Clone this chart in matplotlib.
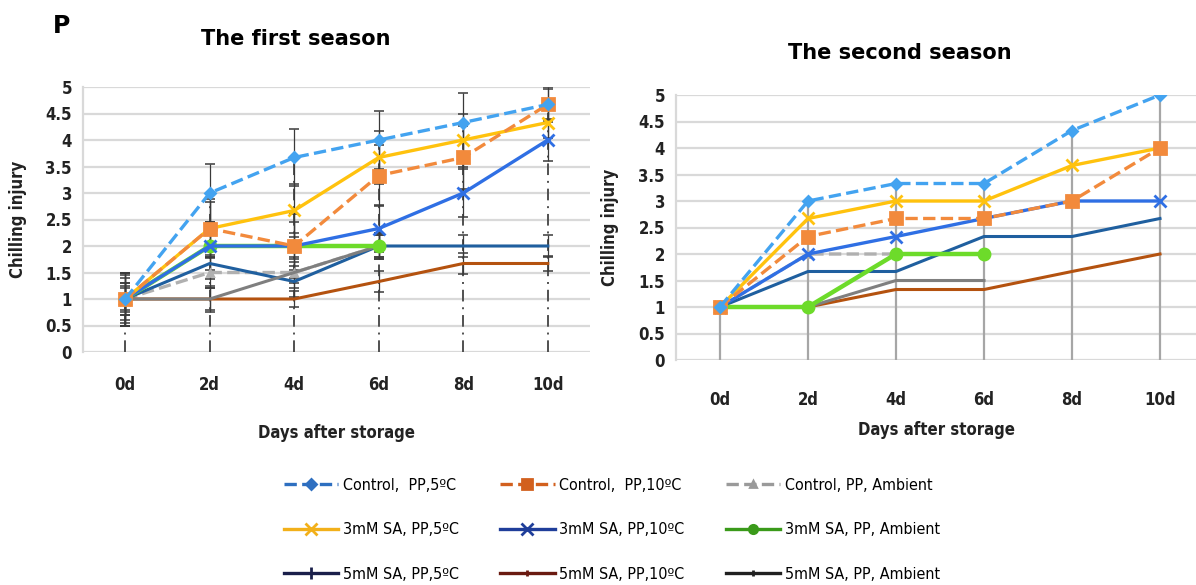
import numpy as np
import matplotlib
matplotlib.use("Agg")
import matplotlib.pyplot as plt
from matplotlib.lines import Line2D

plt.rcParams['font.family'] = ['DejaVu Sans']
plt.rcParams['font.stretch'] = 'condensed'

days = [0, 2, 4, 6, 8, 10]
day_labels = ['0d', '2d', '4d', '6d', '8d', '10d']
nan = np.nan

# first season
s1_ctrl5 = [1, 3, 3.67, 4, 4.33, 4.67]
s1_ctrl10 = [1, 2.33, 2, 3.33, 3.67, 4.67]
s1_ctrlamb = [1, 1.5, 1.5, 2, nan, nan]
s1_sa3_5 = [1, 2.33, 2.67, 3.67, 4, 4.33]
s1_sa3_10 = [1, 2, 2, 2.33, 3, 4]
s1_sa3_amb = [1, 2, 2, 2, nan, nan]
s1_sa5_5 = [1, 1.67, 1.33, 2, 2, 2]
s1_sa5_10 = [1, 1, 1, 1.33, 1.67, 1.67]
s1_sa5_amb = [1, 1, 1.5, 2, nan, nan]

# error bars, first season (estimated)
e1_ctrl5 = [0.5, 0.55, 0.53, 0.55, 0.55, 0.33]
e1_ctrl10 = [0.5, 0.55, 0.6, 0.58, 0.6, 0.3]
e1_ctrlamb = [0.5, 0.3, 0.3, 0.25, nan, nan]
e1_sa3_5 = [0.45, 0.5, 0.5, 0.5, 0.5, 0.3]
e1_sa3_10 = [0.4, 0.45, 0.45, 0.45, 0.45, 0.4]
e1_sa3_amb = [0.3, 0.2, 0.25, 0.2, nan, nan]
e1_sa5_5 = [0.3, 0.3, 0.3, 0.25, 0.2, 0.2]
e1_sa5_10 = [0.2, 0.25, 0.15, 0.2, 0.2, 0.15]
e1_sa5_amb = [0.25, 0.2, 0.2, 0.2, nan, nan]

# second season
s2_ctrl5 = [1, 3, 3.33, 3.33, 4.33, 5]
s2_ctrl10 = [1, 2.33, 2.67, 2.67, 3, 4]
s2_ctrlamb = [1, 2, 2, nan, nan, nan]
s2_sa3_5 = [1, 2.67, 3, 3, 3.67, 4]
s2_sa3_10 = [1, 2, 2.33, 2.67, 3, 3]
s2_sa3_amb = [1, 1, 2, 2, nan, nan]
s2_sa5_5 = [1, 1.67, 1.67, 2.33, 2.33, 2.67]
s2_sa5_10 = [1, 1, 1.33, 1.33, 1.67, 2]
s2_sa5_amb = [1, 1, 1.5, 1.5, nan, nan]

names = ['Control,  PP,5\u00baC', 'Control,  PP,10\u00baC', 'Control, PP, Ambient',
         '3mM SA, PP,5\u00baC', '3mM SA, PP,10\u00baC', '3mM SA, PP, Ambient',
         '5mM SA, PP,5\u00baC', '5mM SA, PP,10\u00baC', '5mM SA, PP, Ambient']

styles = [
    dict(color='#43A3F0', ls='--', lw=2.4, marker='D', ms=5, z=9),
    dict(color='#F28A3C', ls='--', lw=2.4, marker='s', ms=8, z=8),
    dict(color='#B0B0B0', ls='--', lw=2.4, marker='^', ms=5, z=3),
    dict(color='#FFC20E', ls='-', lw=2.4, marker='x', ms=8, z=7),
    dict(color='#2F6FE4', ls='-', lw=2.4, marker='x', ms=9, z=6),
    dict(color='#6DDB2A', ls='-', lw=3.2, marker='o', ms=8, z=5),
    dict(color='#1F5F9F', ls='-', lw=2.2, marker=None, ms=0, z=4),
    dict(color='#B4520F', ls='-', lw=2.2, marker=None, ms=0, z=4),
    dict(color='#7F7F7F', ls='-', lw=2.2, marker=None, ms=0, z=4),
]

legend_styles = [
    dict(color='#2E6FC0', ls='--', marker='D', ms=5),
    dict(color='#D2601E', ls='--', marker='s', ms=7),
    dict(color='#9A9A9A', ls='--', marker='^', ms=5),
    dict(color='#F2B01A', ls='-', marker='x', ms=9),
    dict(color='#1F3E9A', ls='-', marker='x', ms=9),
    dict(color='#3A9A1A', ls='-', marker='o', ms=6),
    dict(color='#1A1F4A', ls='-', marker='|', ms=9),
    dict(color='#6A1A10', ls='-', marker='|', ms=4),
    dict(color='#202020', ls='-', marker='|', ms=4),
]

season1 = [s1_ctrl5, s1_ctrl10, s1_ctrlamb, s1_sa3_5, s1_sa3_10, s1_sa3_amb, s1_sa5_5, s1_sa5_10, s1_sa5_amb]
errs1 = [e1_ctrl5, e1_ctrl10, e1_ctrlamb, e1_sa3_5, e1_sa3_10, e1_sa3_amb, e1_sa5_5, e1_sa5_10, e1_sa5_amb]
season2 = [s2_ctrl5, s2_ctrl10, s2_ctrlamb, s2_sa3_5, s2_sa3_10, s2_sa3_amb, s2_sa5_5, s2_sa5_10, s2_sa5_amb]

W, H = 1196, 585
fig = plt.figure(figsize=(W / 100, H / 100), dpi=100)


def setup(ax, xmax, tickpad):
    ax.set_xlim(-1, xmax)
    ax.set_ylim(0, 5)
    ax.set_yticks(np.arange(0, 5.01, 0.5))
    ax.set_yticklabels(['0', '0.5', '1', '1.5', '2', '2.5', '3', '3.5', '4', '4.5', '5'],
                       fontsize=12, fontweight='bold', color='#222222')
    ax.set_xticks(days)
    ax.set_xticklabels(day_labels, fontsize=12, fontweight='bold', color='#222222')
    ax.tick_params(axis='both', length=0)
    ax.tick_params(axis='x', pad=tickpad)
    ax.tick_params(axis='y', pad=8)
    ax.grid(axis='y', color='#D9D9D9', lw=1.6)
    ax.set_axisbelow(True)
    for s in ['top', 'right', 'bottom']:
        ax.spines[s].set_visible(False)
    ax.spines['left'].set_color('#D9D9D9')
    ax.spines['left'].set_linewidth(1.6)
    ax.set_ylabel('Chilling injury', fontsize=12, fontweight='bold', color='#222222')
    ax.set_xlabel('Days after storage', fontsize=12, fontweight='bold', color='#222222')


# first season
ax1 = fig.add_axes([83 / W, 1 - 352 / H, 507 / W, 265 / H])
setup(ax1, 11, 17)
top1 = np.nanmax(np.array(season1), axis=0)
ax1.vlines(days, 0, top1, colors='#505050', linestyles=(0, (6, 3, 1, 3)), lw=1.4, zorder=1)
for ys, es, st in zip(season1, errs1, styles):
    ax1.errorbar(days, ys, yerr=es, fmt='none', ecolor='#3A3A3A', elinewidth=0.9,
                 capsize=3.5, capthick=1.1, zorder=2)
for ys, st in zip(season1, styles):
    ax1.plot(days, ys, color=st['color'], ls=st['ls'], lw=st['lw'], marker=st['marker'],
             ms=st['ms'], mew=2, zorder=st['z'])
ax1.yaxis.set_label_coords(-0.11, 0.5)
ax1.xaxis.set_label_coords(0.5, -0.27)
ax1.set_title('The first season', fontsize=15, fontweight='bold', stretch='normal',
              pad=30, x=0.42)

# second season
ax2 = fig.add_axes([676 / W, 1 - 360 / H, 520 / W, 265 / H])
setup(ax2, -1 + 520 / 44, 22)
top2 = np.nanmax(np.array(season2), axis=0)
ax2.vlines(days, 0, top2, colors='#A6A6A6', lw=1.6, zorder=1)
for ys, st in zip(season2, styles):
    ax2.plot(days, ys, color=st['color'], ls=st['ls'], lw=st['lw'], marker=st['marker'],
             ms=st['ms'], mew=2, zorder=st['z'])
ax2.yaxis.set_label_coords(-0.11, 0.5)
ax2.xaxis.set_label_coords(0.5, -0.23)
ax2.set_title('The second season', fontsize=15, fontweight='bold', stretch='normal',
              pad=26, x=0.43)

fig.text(62 / W, 1 - 26 / H, 'P', fontsize=17, fontweight='bold', stretch='normal',
         ha='center', va='center')

# legend, column-major order
order = [0, 3, 6, 1, 4, 7, 2, 5, 8]
handles = []
for i in order:
    st = legend_styles[i]
    handles.append(Line2D([], [], color=st['color'], ls=st['ls'], lw=2.4, marker=st['marker'],
                          ms=st['ms'], mew=2))
fig.legend(handles, [names[i] for i in order], ncol=3, loc='center',
           bbox_to_anchor=(612 / W, 1 - 530 / H), frameon=False, fontsize=11.5,
           handlelength=3.4, labelspacing=1.85, columnspacing=2.6, handletextpad=0.3)

fig.savefig('out.png', dpi=100)
